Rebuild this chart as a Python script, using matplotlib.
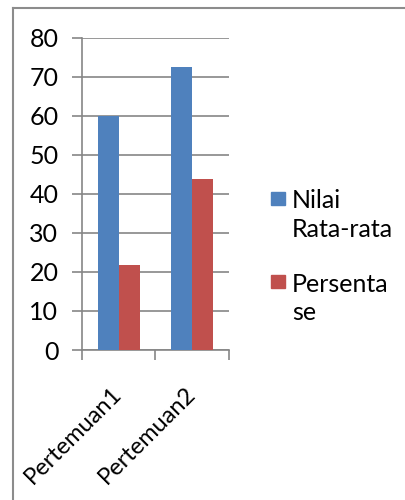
import numpy as np
import matplotlib.pyplot as plt
from matplotlib.lines import Line2D
from matplotlib.patches import Rectangle

plt.rcParams['font.family'] = ['Lato', 'DejaVu Sans']

categories = ['Pertemuan1', 'Pertemuan2']
nilai_rata = [60, 72.6]
persentase = [21.8, 43.8]
series_labels = ['Nilai\nRata-rata', 'Persenta\nse']

blue = '#4f81bd'
red = '#c0504d'
grid_c = '#868686'
fs = 18

fig = plt.figure(figsize=(4.06, 5.0), dpi=100)
ax = fig.add_axes([0.202, 0.30, 0.362, 0.6246])

x = np.arange(len(categories))
w = 0.285
ax.bar(x - w / 2, nilai_rata, w, color=blue, zorder=3)
ax.bar(x + w / 2, persentase, w, color=red, zorder=3)

ax.set_xlim(-0.5, 1.5)
ax.set_ylim(0, 80)
ax.set_yticks(range(0, 81, 10))
ax.yaxis.grid(True, color=grid_c, lw=1.2, zorder=0)
ax.tick_params(axis='y', labelsize=fs, length=7, width=1.2, color=grid_c, pad=10)

# category ticks sit between the groups
ax.set_xticks([-0.5, 0.5, 1.5])
ax.set_xticklabels([])
ax.tick_params(axis='x', length=7, width=1.2, color=grid_c)
for xi, lab in zip(x, categories):
    ax.annotate(lab, xy=(xi, 0), xycoords=('data', 'axes fraction'),
                xytext=(5, -24), textcoords='offset points',
                rotation=45, ha='right', va='top', fontsize=17)

for s in ['top', 'right']:
    ax.spines[s].set_visible(False)
for s in ['left', 'bottom']:
    ax.spines[s].set_color(grid_c)
    ax.spines[s].set_linewidth(1.2)

# legend, drawn by hand so the swatch lines up with the first text line
legend_y = [0.603, 0.437]
for col, lab, yy in zip([blue, red], series_labels, legend_y):
    fig.patches.append(Rectangle((271 / 406, yy - 0.013), 14 / 406, 0.026,
                                 transform=fig.transFigure, color=col))
    fig.text(292 / 406, yy + 0.018, lab, fontsize=fs, va='top', ha='left',
             linespacing=1.3)

# frame around the chart
fig.add_artist(Line2D([13 / 406, 13 / 406], [0, 1 - 8 / 500],
                      color='#8c8c8c', lw=1.5, transform=fig.transFigure))
fig.add_artist(Line2D([13 / 406, 1], [1 - 8 / 500, 1 - 8 / 500],
                      color='#8c8c8c', lw=1.5, transform=fig.transFigure))

fig.savefig('out.png', dpi=100)
